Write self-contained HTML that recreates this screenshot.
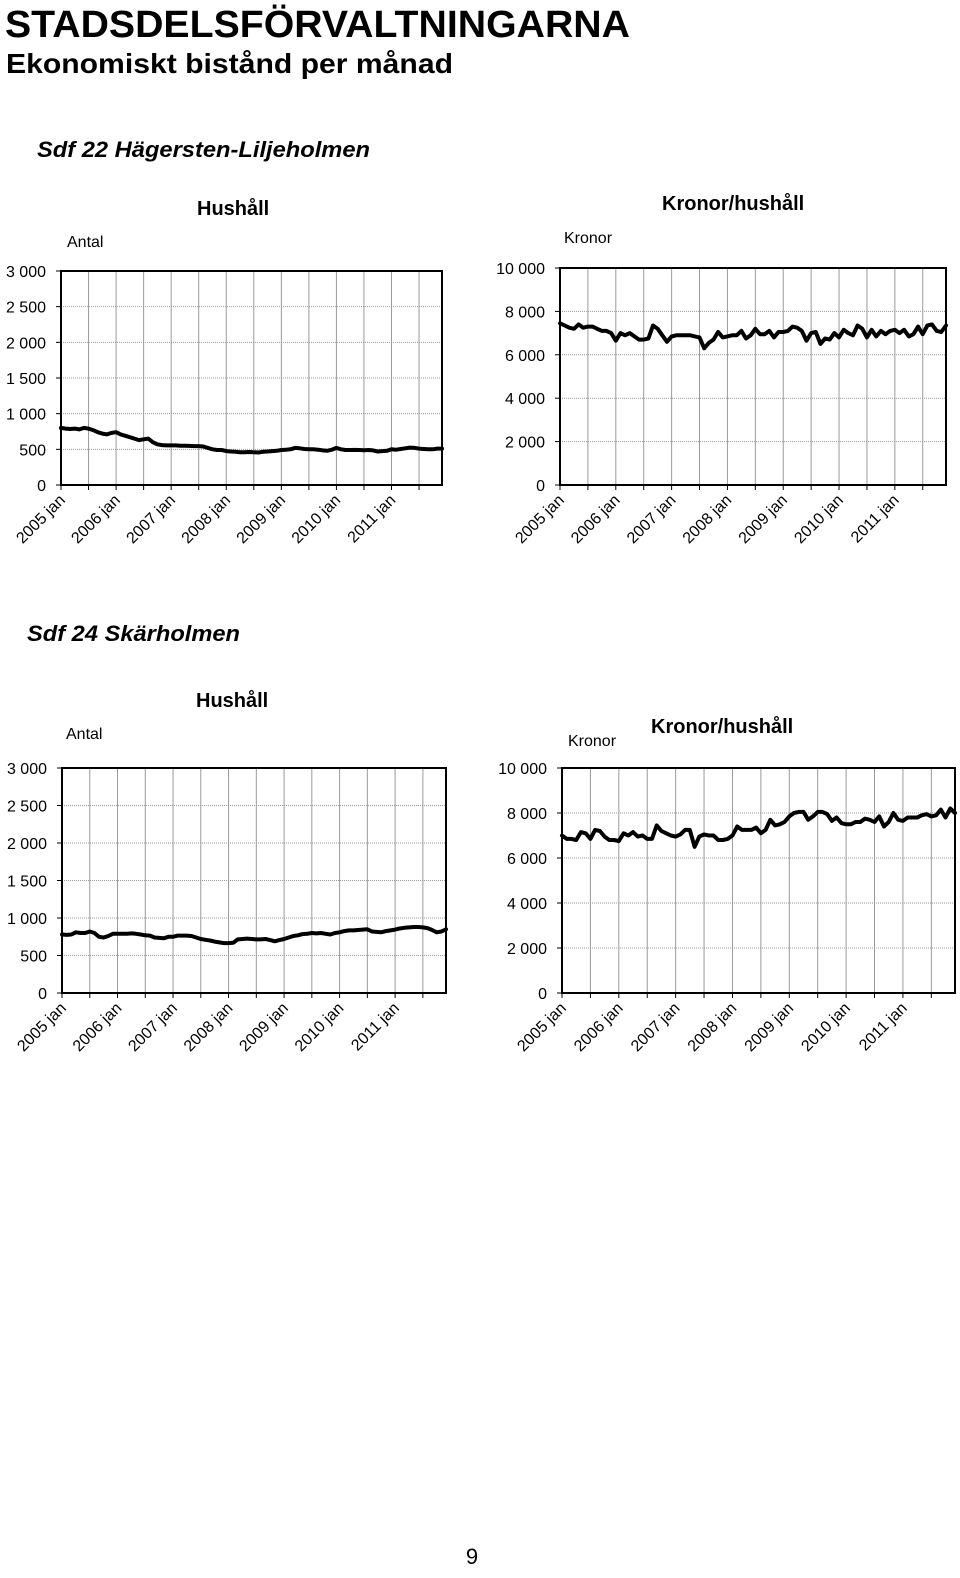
<!DOCTYPE html>
<html><head><meta charset="utf-8"><style>
html,body{margin:0;padding:0;background:#fff;}
svg{display:block;font-family:"Liberation Sans",Arial,sans-serif;}
</style></head><body>
<svg id="page" width="960" height="1578" viewBox="0 0 960 1578" xmlns="http://www.w3.org/2000/svg">
<text x="5" y="37" font-size="38" font-weight="bold" textLength="625" lengthAdjust="spacingAndGlyphs">STADSDELSFÖRVALTNINGARNA</text>
<text x="6" y="73" font-size="28" font-weight="bold" textLength="447" lengthAdjust="spacingAndGlyphs">Ekonomiskt bistånd per månad</text>
<text x="37" y="157" font-size="22" font-weight="bold" font-style="italic" textLength="333" lengthAdjust="spacingAndGlyphs">Sdf 22 Hägersten-Liljeholmen</text>
<text x="27" y="641" font-size="22" font-weight="bold" font-style="italic" textLength="213" lengthAdjust="spacingAndGlyphs">Sdf 24 Skärholmen</text>
<text x="197" y="215" font-size="20" font-weight="bold">Hushåll</text>
<text x="67" y="247" font-size="16">Antal</text>
<text x="662" y="210" font-size="20" font-weight="bold">Kronor/hushåll</text>
<text x="564" y="243" font-size="16">Kronor</text>
<text x="196" y="707" font-size="20" font-weight="bold">Hushåll</text>
<text x="66" y="739" font-size="16">Antal</text>
<text x="651" y="733" font-size="20" font-weight="bold">Kronor/hushåll</text>
<text x="568" y="746" font-size="16">Kronor</text>
<text x="472" y="1564" font-size="22" text-anchor="middle">9</text>
</svg>
<script>
const xTickLabels = ["2005 jan","2006 jan","2007 jan","2008 jan","2009 jan","2010 jan","2011 jan"];
const hushallTicks = [0,500,1000,1500,2000,2500,3000];
const kronorTicks = [0,2000,4000,6000,8000,10000];
const hushall22 = [800,790,785,790,780,800,790,770,740,720,710,730,
740,710,690,670,650,630,640,650,600,570,560,555,
555,555,550,550,548,545,545,540,520,500,490,490,
475,470,465,460,458,462,460,455,465,470,475,480,
490,495,500,520,515,505,500,500,495,485,480,495,
520,500,490,490,492,490,488,490,485,470,475,480,
500,495,505,515,525,520,510,505,500,500,510,510];
const kronor22 = [7450,7350,7250,7200,7400,7250,7300,7300,7200,7100,7100,7000,
6650,7000,6900,7000,6850,6700,6700,6750,7350,7200,6900,6600,
6850,6900,6900,6900,6900,6850,6800,6300,6550,6700,7050,6800,
6850,6900,6900,7100,6750,6900,7200,6950,6950,7100,6800,7050,
7050,7100,7300,7250,7100,6650,7000,7050,6500,6750,6700,7000,
6800,7150,7000,6900,7350,7200,6800,7150,6850,7100,6950,7100,
7150,7000,7150,6850,6950,7300,6950,7350,7400,7100,7050,7350];
const hushall24 = [780,775,780,810,800,800,820,800,750,740,760,790,
790,790,790,795,790,780,770,765,740,735,730,750,
750,765,765,765,760,740,720,710,700,685,675,665,
665,670,715,720,725,720,715,715,720,705,690,705,
720,740,760,770,785,790,800,795,800,790,780,800,
810,825,835,835,840,845,850,820,815,810,825,835,
845,860,870,875,880,880,875,865,840,810,820,850];
const kronor24 = [7000,6850,6850,6800,7150,7100,6850,7250,7200,6950,6800,6800,
6750,7100,7000,7150,6950,7000,6850,6850,7450,7200,7100,7000,
6950,7050,7250,7250,6500,6950,7050,7000,7000,6800,6800,6850,
7000,7400,7250,7250,7250,7350,7100,7250,7700,7450,7500,7600,
7850,8000,8050,8050,7700,7850,8050,8050,7950,7650,7800,7550,
7500,7500,7600,7600,7750,7700,7600,7850,7400,7600,8000,7700,
7650,7800,7800,7800,7900,7950,7850,7900,8150,7800,8200,8000];

const NS = "http://www.w3.org/2000/svg";
const svg = document.getElementById('page');
function mk(tag, attrs){const e=document.createElementNS(NS,tag);for(const k in attrs)e.setAttribute(k,attrs[k]);return e;}
function fmt(v){const s=String(v);return s.length>3?s.slice(0,s.length-3)+" "+s.slice(-3):s;}

function drawChart(id, box, ticks, yMax, data){
  const g = mk('g',{});
  
  
  svg.appendChild(g);
  const n = data.length;
  const xs = i => box.l + i*(box.r-box.l)/(n-1);
  const ys = v => box.b - v/yMax*(box.b-box.t);
  // horizontal grid + y labels
  ticks.forEach(t=>{
    const y = ys(t);
    const gl = mk('line',{x1:box.l,x2:box.r,y1:y,y2:y,stroke:'#9a9a9a','stroke-width':1,'stroke-dasharray':'1 1'});
    
    
    g.appendChild(gl);
    const tk = mk('line',{x1:box.l-5,x2:box.l,y1:y,y2:y,stroke:'#000','stroke-width':1});
    g.appendChild(tk);
    const tx = mk('text',{x:box.l-15,y:y+6,'font-size':16,'text-anchor':'end'});
    
    
    tx.textContent = fmt(t);
    g.appendChild(tx);
  });
  // vertical grid every 6 months
  for(let m=6;m<n-1;m+=6){
    const x = xs(m);
    const vl = mk('line',{x1:x,x2:x,y1:box.t,y2:box.b,stroke:'#9a9a9a','stroke-width':1});
    
    
    g.appendChild(vl);
  }
  for(let m=0;m<n;m+=6){
    const x = xs(m);
    g.appendChild(mk('line',{x1:x,x2:x,y1:box.b,y2:box.b+5,stroke:'#000','stroke-width':1}));
  }
  xTickLabels.forEach((lab,k)=>{
    const x = xs(k*12);
    const tx = mk('text',{x:0,y:0,'font-size':16,'text-anchor':'end',transform:`translate(${x+5},${box.b+16}) rotate(-45)`});
    
    
    tx.textContent = lab;
    g.appendChild(tx);
  });
  const fr = mk('rect',{x:box.l,y:box.t,width:box.r-box.l,height:box.b-box.t,fill:'none',stroke:'#000','stroke-width':2});
  
  
  g.appendChild(fr);
  const pts = data.map((v,i)=>xs(i).toFixed(1)+','+ys(v).toFixed(1)).join(' ');
  const pl = mk('polyline',{points:pts,fill:'none',stroke:'#000','stroke-width':4,'stroke-linejoin':'round','stroke-linecap':'round'});
  
  
  g.appendChild(pl);
}
drawChart('chart-hushall-sdf22',{l:61,r:442,t:271,b:485},hushallTicks,3000,hushall22);
drawChart('chart-kronor-sdf22',{l:560,r:946,t:268,b:485},kronorTicks,10000,kronor22);
drawChart('chart-hushall-sdf24',{l:62,r:446,t:768,b:993},hushallTicks,3000,hushall24);
drawChart('chart-kronor-sdf24',{l:562,r:955,t:768,b:993},kronorTicks,10000,kronor24);
</script>
</body></html>
